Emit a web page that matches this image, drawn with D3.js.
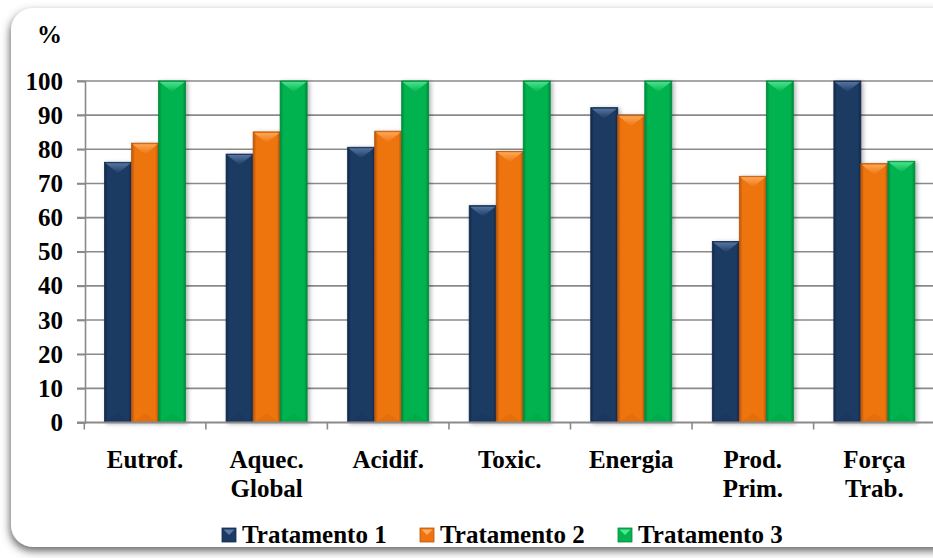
<!DOCTYPE html>
<html><head><meta charset="utf-8">
<script src="https://cdn.jsdelivr.net/npm/d3@7"></script>
<style>html,body{margin:0;padding:0;background:#fff;overflow:hidden}svg{display:block}</style>
</head><body>
<svg id="c" width="933" height="558"></svg>
<script>
const categories = ["Eutrof.", "Aquec.\nGlobal", "Acidif.", "Toxic.", "Energia", "Prod.\nPrim.", "Força\nTrab."];
const seriesNames = ["Tratamento 1", "Tratamento 2", "Tratamento 3"];
const tratamento1 = [76.2, 78.6, 80.6, 63.5, 92.2, 53.0, 100];
const tratamento2 = [81.8, 85.1, 85.3, 79.4, 90.0, 72.1, 75.8];
const tratamento3 = [100, 100, 100, 100, 100, 100, 76.5];
const yTicks = [0, 10, 20, 30, 40, 50, 60, 70, 80, 90, 100];
const seriesValues = [tratamento1, tratamento2, tratamento3];
const colors = ["#1d3a63", "#ee7411", "#05b350"];
const darks = ["#13284a", "#b8560a", "#038a3c"];
const lights = ["#5a7aa8", "#ffad5e", "#4fe890"];

const svg = d3.select("#c");
const defs = svg.append("defs");
const font = "Liberation Serif";
const fsize = "25px";

const fs = defs.append("filter").attr("id","frameShadow").attr("x","-10%").attr("y","-10%").attr("width","120%").attr("height","130%");
fs.append("feDropShadow").attr("dx",-1).attr("dy",4).attr("stdDeviation",4).attr("flood-color","#555").attr("flood-opacity",0.9);
const bs = defs.append("filter").attr("id","barShadow").attr("x","-30%").attr("y","-10%").attr("width","160%").attr("height","120%");
bs.append("feDropShadow").attr("dx",2).attr("dy",1).attr("stdDeviation",2).attr("flood-color","#000").attr("flood-opacity",0.3);

colors.forEach((c,i)=>{
  const g = defs.append("linearGradient").attr("id","bg"+i).attr("x1","0").attr("x2","1").attr("y1","0").attr("y2","0");
  g.append("stop").attr("offset","0").attr("stop-color",darks[i]);
  g.append("stop").attr("offset","0.12").attr("stop-color",c);
  g.append("stop").attr("offset","0.88").attr("stop-color",c);
  g.append("stop").attr("offset","1").attr("stop-color",darks[i]);
  const t = defs.append("linearGradient").attr("id","tg"+i).attr("x1","0").attr("x2","0").attr("y1","0").attr("y2","1");
  t.append("stop").attr("offset","0").attr("stop-color",lights[i]);
  t.append("stop").attr("offset","1").attr("stop-color",c);
});

svg.append("rect").attr("x",11).attr("y",8).attr("width",980).attr("height",539).attr("rx",22)
  .attr("fill","#fff").attr("filter","url(#frameShadow)");

const x0 = d3.scaleBand().domain(categories).range([84.3, 84.3 + 7*121.55]).paddingInner(1/3).paddingOuter(1/6);
const x1 = d3.scaleBand().domain(seriesNames).range([0, x0.bandwidth()]);
const y = d3.scaleLinear().domain([0,100]).range([422.5, 81]);

svg.append("g").selectAll("line").data(yTicks.filter(d=>d>0)).join("line")
  .attr("x1",77).attr("x2",960).attr("y1",d=>y(d)).attr("y2",d=>y(d))
  .attr("stroke","#8a8a8a").attr("stroke-width",1.6);

const yAxis = svg.append("g").attr("transform","translate(85,0)")
  .call(d3.axisLeft(y).tickValues(yTicks).tickSize(8).tickPadding(14));
yAxis.select(".domain").attr("stroke","#8a8a8a").attr("stroke-width",1.6);
yAxis.selectAll(".tick line").attr("stroke","#8a8a8a").attr("stroke-width",1.6);
yAxis.selectAll("text").attr("font-family",font).attr("font-weight","bold").attr("font-size",fsize).attr("fill","#000");

const groups = svg.append("g").selectAll("g").data(categories).join("g")
  .attr("transform",d=>`translate(${x0(d)},0)`);
groups.each(function(cat, ci){
  const g = d3.select(this);
  seriesNames.forEach((s, si)=>{
    const v = seriesValues[si][ci];
    const bx = x1(s), bw = x1.bandwidth(), by = y(v), bh = y(0)-y(v);
    const bar = g.append("g");
    bar.append("rect").attr("x",bx).attr("y",by).attr("width",bw).attr("height",bh)
      .attr("fill","url(#bg"+si+")").attr("stroke",darks[si]).attr("stroke-width",0.8).attr("filter","url(#barShadow)");
    bar.append("path").attr("d",`M${bx+1},${by+1} L${bx+bw-1},${by+1} L${bx+bw/2},${by+11} Z`)
      .attr("fill","url(#tg"+si+")").attr("opacity",0.9);
    bar.append("path").attr("d",`M${bx+2},${y(0)-1} L${bx+bw/2},${y(0)-9} L${bx+bw-2},${y(0)-1} Z`)
      .attr("fill",darks[si]).attr("opacity",0.2);
  });
});

svg.append("line").attr("x1",77).attr("x2",960).attr("y1",y(0)).attr("y2",y(0))
  .attr("stroke","#8a8a8a").attr("stroke-width",1.8);
const boundaries = categories.map(c=>x0(c)-x0.step()*x0.paddingInner()/2);
svg.append("g").selectAll("line").data(boundaries).join("line")
  .attr("x1",d=>d).attr("x2",d=>d).attr("y1",y(0)).attr("y2",y(0)+7)
  .attr("stroke","#8a8a8a").attr("stroke-width",1.6);

svg.append("g").selectAll("text").data(categories).join("text")
  .attr("font-family",font).attr("font-weight","bold").attr("font-size",fsize).attr("text-anchor","middle")
  .attr("x",d=>x0(d)+x0.bandwidth()/2).attr("y",468)
  .each(function(d){
    const t = d3.select(this);
    d.split("\n").forEach((line,i)=>{
      t.append("tspan").attr("x",x0(d)+x0.bandwidth()/2).attr("dy",i===0?0:28.5).text(line);
    });
  });

svg.append("text").attr("x",37).attr("y",43).attr("font-family",font).attr("font-weight","bold").attr("font-size",fsize).text("%");

const legendX = [222, 420, 618];
const lg = svg.append("g").selectAll("g").data(seriesNames).join("g")
  .attr("transform",(d,i)=>`translate(${legendX[i]},528)`);
lg.append("rect").attr("width",14).attr("height",14).attr("fill",(d,i)=>colors[i]).attr("stroke",(d,i)=>darks[i]).attr("stroke-width",0.8);
lg.append("path").attr("d","M1.5,1.5 L12.5,1.5 L7,7 Z").attr("fill",(d,i)=>lights[i]);
lg.append("text").attr("x",20).attr("y",15).attr("font-family",font).attr("font-weight","bold").attr("font-size",fsize).text(d=>d);
</script>
</body></html>
